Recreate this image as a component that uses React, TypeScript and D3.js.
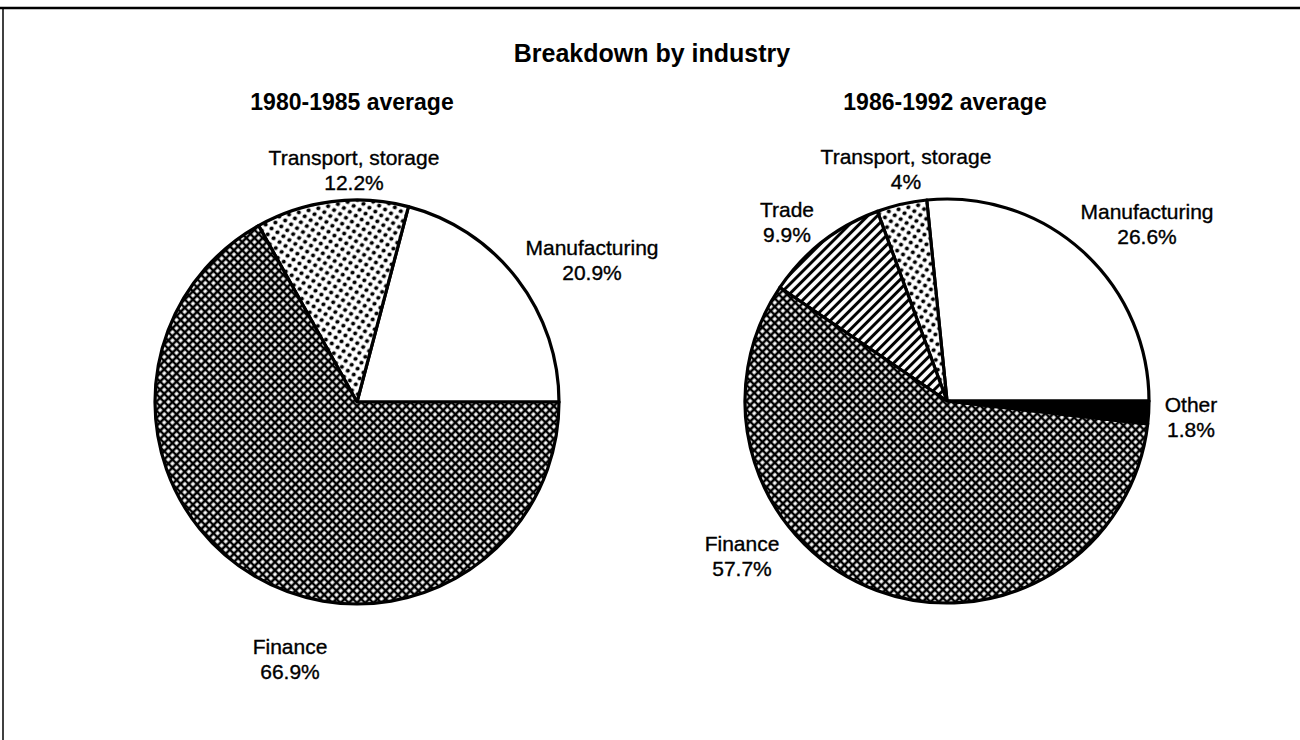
import React, { useEffect, useRef } from "react";
import * as d3 from "d3";

// 1980-1985 average
const earlyCategories = ["Manufacturing", "Transport, storage", "Finance"];
const earlyShares = [20.9, 12.2, 66.9];

// 1986-1992 average
const lateCategories = ["Manufacturing", "Transport, storage", "Trade", "Finance", "Other"];
const lateShares = [26.6, 4, 9.9, 57.7, 1.8];

const panelTitles = ["1980-1985 average", "1986-1992 average"];

const FONT = "'Liberation Sans', Arial, Helvetica, sans-serif";

// where each slice label sits, relative to the pie centre
const earlyLabelPos = {
  Manufacturing: [235, -147],
  "Transport, storage": [-3, -237],
  Finance: [-67, 252],
};
const lateLabelPos = {
  Manufacturing: [200, -182],
  "Transport, storage": [-41, -237],
  Trade: [-160, -184],
  Finance: [-205, 150],
  Other: [244, 11],
};

const fillFor = {
  Manufacturing: "#fff",
  "Transport, storage": "url(#dots)",
  Trade: "url(#stripes)",
  Finance: "url(#xhatch)",
  Other: "#000",
};

const App = () => {
  const chartRef = useRef(null);

  useEffect(() => {
    drawChart();
  }, []);

  const drawChart = () => {
    const width = 1300;
    const height = 740;
    const radius = 202;

    const svg = d3.select(chartRef.current);
    svg.selectAll("*").remove();
    svg.attr("width", width).attr("height", height);

    const defs = svg.append("defs");

    const xh = defs
      .append("pattern")
      .attr("id", "xhatch")
      .attr("patternUnits", "userSpaceOnUse")
      .attr("width", 5.8)
      .attr("height", 5.8)
      .attr("patternTransform", "rotate(45)");
    xh.append("rect").attr("width", 5.8).attr("height", 5.8).attr("fill", "#fff");
    xh.append("path")
      .attr("d", "M0,2.9H5.8M2.9,0V5.8")
      .attr("stroke", "#000")
      .attr("stroke-width", 2.6);

    const dots = defs
      .append("pattern")
      .attr("id", "dots")
      .attr("patternUnits", "userSpaceOnUse")
      .attr("width", 10)
      .attr("height", 10)
      .attr("patternTransform", "rotate(-12)");
    dots.append("rect").attr("width", 10).attr("height", 10).attr("fill", "#fff");
    dots.append("circle").attr("cx", 2.5).attr("cy", 2.5).attr("r", 2.1).attr("fill", "#000");
    dots.append("circle").attr("cx", 7.5).attr("cy", 7.5).attr("r", 2.1).attr("fill", "#000");

    const stripes = defs
      .append("pattern")
      .attr("id", "stripes")
      .attr("patternUnits", "userSpaceOnUse")
      .attr("width", 6.8)
      .attr("height", 6.8)
      .attr("patternTransform", "rotate(45)");
    stripes.append("rect").attr("width", 6.8).attr("height", 6.8).attr("fill", "#fff");
    stripes.append("path")
      .attr("d", "M3.4,0V6.8")
      .attr("stroke", "#000")
      .attr("stroke-width", 3);

    svg.append("rect").attr("width", width).attr("height", height).attr("fill", "#fff");

    // frame
    svg.append("line")
      .attr("x1", 0).attr("x2", width).attr("y1", 8).attr("y2", 8)
      .attr("stroke", "#000").attr("stroke-width", 2.5);
    svg.append("line")
      .attr("x1", 3).attr("x2", 3).attr("y1", 8).attr("y2", height)
      .attr("stroke", "#000").attr("stroke-width", 1.5);

    svg.append("text")
      .attr("x", 652)
      .attr("y", 62)
      .attr("text-anchor", "middle")
      .attr("font-family", FONT)
      .attr("font-weight", "bold")
      .attr("font-size", 25)
      .text("Breakdown by industry");

    // slices go counter-clockwise starting at 3 o'clock
    const pie = d3
      .pie()
      .sort(null)
      .value((d) => d.value)
      .startAngle(Math.PI / 2)
      .endAngle(Math.PI / 2 - 2 * Math.PI);

    const arc = d3.arc().innerRadius(0).outerRadius(radius);

    const panels = [
      { cx: 357, cy: 402, cats: earlyCategories, vals: earlyShares, pos: earlyLabelPos, title: panelTitles[0], tx: 352 },
      { cx: 947, cy: 401, cats: lateCategories, vals: lateShares, pos: lateLabelPos, title: panelTitles[1], tx: 945 },
    ];

    panels.forEach((p) => {
      svg.append("text")
        .attr("x", p.tx)
        .attr("y", 110)
        .attr("text-anchor", "middle")
        .attr("font-family", FONT)
        .attr("font-weight", "bold")
        .attr("font-size", 23)
        .text(p.title);

      const data = p.cats.map((c, i) => ({ key: c, value: p.vals[i] }));
      const g = svg.append("g").attr("transform", `translate(${p.cx},${p.cy})`);

      g.selectAll("path")
        .data(pie(data))
        .enter()
        .append("path")
        .attr("d", arc)
        .attr("fill", (d) => fillFor[d.data.key])
        .attr("stroke", "#000")
        .attr("stroke-width", 3.2)
        .attr("stroke-linejoin", "round");

      const labels = g
        .selectAll("text.lbl")
        .data(data)
        .enter()
        .append("text")
        .attr("class", "lbl")
        .attr("text-anchor", "middle")
        .attr("font-family", FONT)
        .attr("font-size", 21)
        .attr("stroke", "#000")
        .attr("stroke-width", 0.35)
        .attr("transform", (d) => `translate(${p.pos[d.key][0]},${p.pos[d.key][1]})`);
      labels.append("tspan").attr("x", 0).attr("dy", 0).text((d) => d.key);
      labels.append("tspan").attr("x", 0).attr("dy", 25).text((d) => `${d.value}%`);
    });
  };

  return <svg ref={chartRef} style={{ position: "absolute", left: 0, top: 0, display: "block" }}></svg>;
};

export default App;
